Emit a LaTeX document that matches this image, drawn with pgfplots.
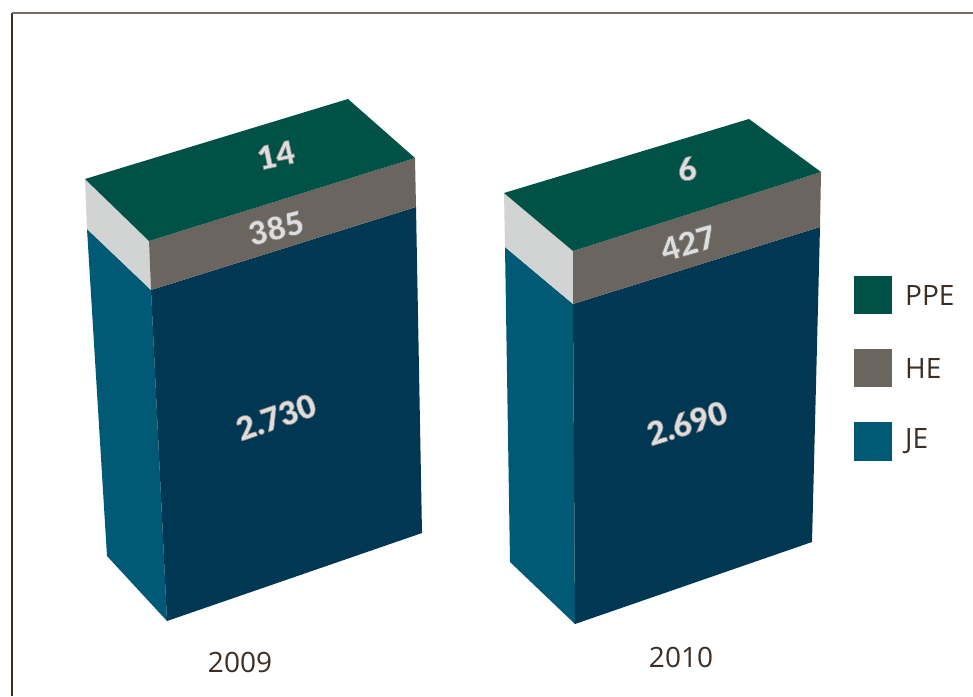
\documentclass[border=0pt]{standalone}
\usepackage{fontspec}
\setmainfont{Open Sans}
\newfontfamily\valfont{Lato Black}
\usepackage{pgfplots}
\pgfplotsset{compat=1.18}
\definecolor{ppe}{HTML}{005146}
\definecolor{he}{HTML}{6B6560}
\definecolor{je}{HTML}{005A75}
\definecolor{jefront}{HTML}{003752}
\definecolor{heside}{HTML}{D2D3D3}
\definecolor{ink}{HTML}{3A2E25}
% value labels: light face with a grey stroke for the raised look
\newcommand{\val}[4]{%
  \node[rotate=#3,font=\valfont\fontsize{32}{32}\selectfont,text=black!13] at (axis cs:#1,#2)
    {\special{pdf:code 2 Tr 0.7 w 0.5 0.5 0.5 RG}#4\special{pdf:code 0 Tr}};
}
\begin{document}
\begin{tikzpicture}
\path[use as bounding box] (0,0) rectangle (973pt,696pt);
\begin{axis}[
  at={(0,0)},
  scale only axis,
  width=973pt,
  height=696pt,
  xmin=0, xmax=973,
  ymin=0, ymax=696,
  y dir=reverse,
  hide axis,
  clip=false,
]
% frame
\addplot[draw=ink,line width=1.3pt] coordinates {(12,696) (12,13)};
\addplot[draw=ink!70,line width=1.3pt] coordinates {(12,13) (973,13)};

% 2009
\addplot[fill=je,draw=none] coordinates {(87,229) (151,290) (167,621) (107,556)} -- cycle;
\addplot[fill=jefront,draw=none] coordinates {(151,290) (416,207) (422,533) (167,621)} -- cycle;
\addplot[fill=heside,draw=none] coordinates {(85,179) (149,241) (151,290) (87,229)} -- cycle;
\addplot[fill=he,draw=none] coordinates {(149,241) (415,158) (416,207) (151,290)} -- cycle;
\addplot[fill=ppe,draw=none] coordinates {(85,179) (348,99) (415,158) (149,241)} -- cycle;

% 2010
\addplot[fill=je,draw=none] coordinates {(505,247) (573,304) (575,624) (510,562)} -- cycle;
\addplot[fill=jefront,draw=none] coordinates {(573,304) (820,227) (812,542) (575,624)} -- cycle;
\addplot[fill=heside,draw=none] coordinates {(504,193) (573,251) (573,304) (505,247)} -- cycle;
\addplot[fill=he,draw=none] coordinates {(573,251) (821,172) (820,227) (573,304)} -- cycle;
\addplot[fill=ppe,draw=none] coordinates {(504,193) (749,119) (821,172) (573,251)} -- cycle;

% legend keys
\addplot[fill=ppe,draw=none] coordinates {(854,276) (892,276) (892,314) (854,314)} -- cycle;
\addplot[fill=he,draw=none] coordinates {(854,349) (892,349) (892,387) (854,387)} -- cycle;
\addplot[fill=je,draw=none] coordinates {(854,422) (892,422) (892,461) (854,461)} -- cycle;

\val{276}{155}{12}{14}
\val{276}{228}{14}{385}
\val{276}{417}{19}{2.730}
\val{687}{169}{10}{6}
\val{688}{243}{16}{427}
\val{687}{423}{17}{2.690}

\node[anchor=west,text=ink,font=\fontsize{28}{28}\selectfont,inner sep=0pt] at (axis cs:905,295) {PPE};
\node[anchor=west,text=ink,font=\fontsize{28}{28}\selectfont,inner sep=0pt] at (axis cs:905,368) {HE};
\node[anchor=west,text=ink,font=\fontsize{28}{28}\selectfont,inner sep=0pt] at (axis cs:905,441) {JE};
\node[text=ink,font=\fontsize{28}{28}\selectfont,inner sep=0pt] at (axis cs:240,662) {2009};
\node[text=ink,font=\fontsize{28}{28}\selectfont,inner sep=0pt] at (axis cs:681,657) {2010};
\end{axis}
\end{tikzpicture}
\end{document}
